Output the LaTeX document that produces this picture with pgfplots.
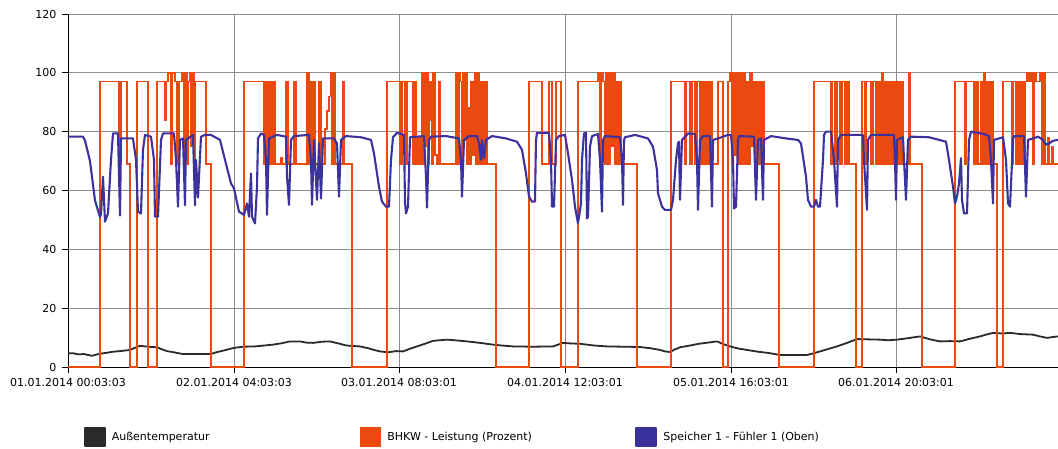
\documentclass[border=0pt]{standalone}
\usepackage{pgfplots}
\pgfplotsset{compat=1.18}
\usepackage{fontspec}
\setmainfont{DejaVu Sans}

\definecolor{tempcol}{RGB}{42,42,42}
\definecolor{bhkwcol}{RGB}{234,74,16}
\definecolor{speichercol}{RGB}{59,50,158}
\definecolor{gridcol}{RGB}{140,140,140}

\begin{document}
\begin{tikzpicture}
\useasboundingbox (-68pt,-81pt) rectangle (990pt,367pt);
\begin{axis}[
  at={(0pt,0pt)}, anchor=south west,
  scale only axis, width=990pt, height=353pt,
  xmin=0, xmax=990, ymin=0, ymax=120,
  axis x line*=bottom, axis y line*=left,
  axis line style={black, line width=0.9pt},
  grid=major,
  major grid style={gridcol, line width=0.9pt},
  ytick={0,20,...,120},
  xtick={0,166,331,497,663,828},
  xticklabels={01.01.2014 00:03:03, 02.01.2014 04:03:03, 03.01.2014 08:03:01,
    04.01.2014 12:03:01, 05.01.2014 16:03:01, 06.01.2014 20:03:01},
  tick align=outside, major tick length=6pt,
  tick style={black, line width=0.9pt},
  /pgf/number format/assume math mode=true,
  ticklabel style={font=\fontsize{11}{13}\selectfont},
  xticklabel style={yshift=-2pt},
  yticklabel style={xshift=-2pt},
  clip=false,
  legend columns=3,
  legend style={at={(axis description cs:0,0)}, anchor=west,
    xshift=16pt, yshift=-70pt, draw=none, fill=none,
    inner sep=0pt, outer sep=0pt,
    nodes={inner sep=0pt},
    font=\fontsize{11}{13}\selectfont,
    /tikz/every odd column/.append style={column sep=6pt},
    /tikz/every even column/.append style={column sep=0pt}},
  legend image code/.code={\fill[#1] (0pt,-9pt) rectangle (20pt,9pt);},
]

% Aussentemperatur
\addplot[color=tempcol, line width=1.8pt, line join=round] coordinates {
(0,4.6) (5,4.7) (10,4.3) (16,4.4) (24,3.8) (28,4.2) (32,4.5) (38,4.8) (45,5.2) (52,5.4)
(62,5.8) (66,6.4) (72,7.2) (80,6.9) (89,6.7) (94,6.0) (99,5.4) (106,5.0) (115,4.4) (130,4.4)
(143,4.4) (148,5.0) (152,5.3) (158,5.8) (166,6.5) (175,6.9) (187,7.0) (196,7.3) (205,7.6)
(214,8.1) (222,8.7) (232,8.7) (238,8.3) (245,8.2) (254,8.6) (262,8.7) (268,8.2) (272,7.9)
(277,7.4) (282,7.2) (292,7.0) (300,6.4) (306,5.8) (312,5.3) (320,5.0) (328,5.4) (335,5.3)
(342,6.2) (349,7.0) (357,7.9) (365,8.9) (372,9.1) (379,9.3) (390,9.0) (399,8.7) (412,8.2)
(425,7.6) (434,7.3) (445,7.0) (465,6.9) (485,7.0) (490,7.6) (495,8.2) (503,8.0) (512,7.9)
(526,7.3) (539,7.0) (555,6.9) (572,6.8) (582,6.4) (592,5.8) (597,5.3) (602,5.1) (607,6.0)
(612,6.7) (622,7.3) (631,7.9) (640,8.3) (649,8.7) (655,7.8) (662,7.0) (670,6.3) (679,5.8)
(690,5.2) (700,4.8) (712,4.1) (725,4.1) (739,4.1) (745,4.6) (752,5.3) (760,6.1) (769,7.0)
(779,8.2) (789,9.5) (800,9.4) (812,9.3) (820,9.1) (829,9.3) (840,9.8) (852,10.4) (862,9.4)
(872,8.7) (882,8.8) (892,8.7) (902,9.6) (912,10.4) (918,11.0) (925,11.6) (934,11.4)
(942,11.6) (952,11.2) (965,11.0) (972,10.4) (979,9.9) (985,10.2) (990,10.4)
};
\addlegendentry{\makebox[248pt][l]{Außentemperatur}}

% BHKW - Leistung
\addplot[color=bhkwcol, line width=1.6pt, const plot] coordinates {
(0,0) (32,97) (51,69) (53,97) (59,69) (62,0) (69,97) (80,0) (89,97) (97,84) (98,97)
(100,100) (103,69) (104,100) (107,97) (109,69) (111,97) (114,100) (116,72) (117,100)
(119,69) (120,97) (122,100) (123,75) (124,100) (126,69) (127,97) (138,69) (143,0)
(176,97) (196,69) (197,97) (198,69) (199,97) (201,69) (202,97) (204,69) (205,97) (207,69)
(213,71) (214,69) (218,97) (220,69) (226,97) (228,69) (239,100) (241,69) (242,97) (244,69)
(246,97) (247,69) (251,97) (253,69) (257,81) (259,87) (261,92) (263,100) (264,69) (266,100)
(267,69) (275,97) (276,69) (284,0) (319,97) (332,69) (334,97) (337,69) (339,97) (345,69)
(346,97) (348,69) (350,78) (352,69) (354,100) (355,69) (356,100) (358,75) (359,100) (360,69)
(361,97) (363,84) (364,69) (365,100) (367,72) (369,69) (371,97) (372,69) (388,100) (390,69)
(391,100) (392,97) (394,69) (395,100) (396,77) (397,100) (399,69) (400,88) (402,69) (403,97)
(405,72) (407,100) (408,69) (410,100) (411,69) (413,97) (415,69) (417,97) (419,69) (428,0)
(461,97) (474,69) (481,97) (484,69) (488,97) (493,0) (510,97) (530,100) (532,69) (533,100)
(535,97) (537,69) (538,100) (540,69) (542,100) (543,75) (545,100) (547,69) (548,97) (550,69)
(551,97) (553,69) (569,0) (603,97) (617,69) (618,97) (622,69) (624,97) (627,69) (629,97)
(632,69) (634,97) (636,69) (638,97) (640,69) (642,97) (644,69) (650,97) (655,0) (660,97)
(662,100) (664,69) (665,100) (667,72) (668,100) (670,69) (671,100) (673,69) (675,100)
(677,69) (678,97) (680,69) (682,100) (684,75) (686,97) (688,69) (690,97) (692,69) (694,97)
(696,69) (711,0) (746,97) (763,69) (764,97) (767,69) (769,97) (772,69) (774,97) (777,69)
(779,97) (781,69) (788,0) (794,97) (797,69) (798,97) (803,69) (805,97) (808,69) (810,97)
(812,69) (814,100) (815,69) (817,97) (819,69) (821,97) (823,69) (825,97) (827,69) (829,97)
(831,69) (833,97) (835,69) (841,100) (842,69) (854,0) (887,97) (897,69) (898,97) (906,69)
(908,97) (910,69) (913,97) (915,69) (916,100) (917,69) (919,97) (921,69) (923,97) (925,69)
(929,0) (935,97) (944,69) (945,97) (948,69) (950,97) (952,69) (954,97) (956,69) (957,97)
(959,100) (961,97) (963,100) (965,69) (966,100) (968,97) (972,100) (974,69) (976,100)
(977,69) (980,78) (981,69) (984,75) (985,69) (990,69)
};
\addlegendentry{\makebox[248pt][l]{BHKW - Leistung (Prozent)}}

% Speicher 1 - Fuehler 1 (Oben)
\addplot[color=speichercol, line width=2.1pt, line join=round] coordinates {
(0,78.3) (15,78.3) (17,77) (22,70) (27,56.6) (32,51) (33,52) (35,64.7) (37,49.4) (40,52.2)
(43,70.4) (45,79.4) (50,79.4) (52,51.5) (53,77.7) (65,77.7) (68,70.4) (70,52.8) (73,52.2)
(75,73.8) (77,78.9) (83,78.3) (86,70.4) (87,51.1) (90,51.1) (93,77.2) (95,79.4) (106,79.4)
(108,70.4) (110,54.5) (112,77.2) (115,77.7) (117,55) (118,77.2) (125,78.9) (127,55) (128,70.4)
(130,57.6) (133,78.3) (137,78.9) (143,78.9) (152,77.2) (157,70.4) (163,62.4) (166,60.7)
(171,52.8) (176,51.7) (179,55.6) (181,51.1) (183,65.8) (184,51.1) (187,48.8) (189,61.3)
(190,77.7) (193,79.4) (196,78.9) (198,70.4) (199,51.7) (201,77.7) (209,78.9) (218,78.3)
(219,64.7) (221,55.1) (223,77.2) (226,78.5) (241,78.9) (243,70.4) (244,55.1) (246,77.2)
(249,56.8) (251,76) (253,57.3) (255,77.7) (266,77.7) (269,76) (271,57.9) (273,77.2)
(278,78.5) (293,78.1) (303,77.2) (306,72.6) (311,61.3) (314,56.2) (318,54.5) (321,54.5)
(323,70.4) (325,78.1) (329,79.6) (336,78.9) (337,56) (338,52.2) (340,54.5) (342,78.1)
(356,78.5) (358,64.7) (359,54.2) (361,77.2) (363,78.3) (378,78.5) (391,77.7) (393,70.4)
(394,57.9) (396,77.2) (401,78.5) (409,78.5) (411,76) (413,70.4) (414,77.2) (416,71)
(418,77.2) (424,78.5) (438,77.7) (449,76.6) (454,73.8) (458,65.8) (461,57.9) (464,56.2)
(467,56.2) (468,77.2) (469,79.6) (481,79.6) (483,70.4) (484,54.5) (486,54.5) (488,77.2)
(491,78.5) (497,78.9) (500,72.6) (504,63.6) (507,54.5) (510,48.8) (513,55.6) (514,70.4)
(516,79.4) (518,79.6) (519,50.5) (520,51.1) (522,74.9) (524,78.5) (530,79.2) (532,70.4)
(534,52.8) (535,77.2) (537,78.5) (552,78.1) (554,70.4) (555,55.1) (556,77.2) (557,78.1)
(567,78.9) (580,77.7) (585,74.9) (589,67) (590,59) (594,54.5) (597,53.4) (603,53.4)
(605,56.8) (608,70.4) (610,76) (611,76.6) (612,56.8) (614,77.2) (620,79.4) (627,79.2)
(629,70.4) (630,53.4) (632,77.2) (635,78.5) (642,78.5) (644,54.5) (645,77.2) (650,77.7)
(660,78.9) (663,78.9) (665,70.4) (666,53.9) (668,54.5) (670,77.2) (671,78.5) (686,78.3)
(688,56.8) (690,77.2) (693,77.7) (695,56.8) (696,77.2) (703,78.5) (718,77.7) (730,77.2)
(733,76) (735,71.5) (738,64.7) (740,56.8) (743,54.5) (746,54.5) (748,56.8) (750,54.5)
(752,54.5) (755,70.4) (756,78.9) (758,80) (763,80) (766,70.4) (769,54.5) (770,77.2)
(773,78.9) (795,78.9) (796,70.4) (799,53.4) (800,77.2) (803,78.9) (826,78.9) (827,70)
(828,56.8) (829,77.2) (835,78.1) (836,70.4) (838,56.8) (840,77.2) (843,78.3) (861,78.1)
(878,76.6) (881,70.4) (885,61.3) (887,55.6) (889,57.9) (891,62.4) (893,71) (894,56.8)
(896,52.2) (899,52.2) (901,77.2) (903,80) (916,79.2) (921,78.5) (923,70.4) (925,55.6)
(926,77.2) (935,78.1) (938,70.4) (940,55.6) (942,54.5) (945,77.2) (946,78.5) (956,78.5)
(958,57.9) (960,77.2) (965,77.7) (970,78.3) (975,77.2) (978,75.6) (981,76) (985,76.9)
(990,77.2)
};
\addlegendentry{\makebox[248pt][l]{Speicher 1 - Fühler 1 (Oben)}}

\end{axis}
\end{tikzpicture}
\end{document}
